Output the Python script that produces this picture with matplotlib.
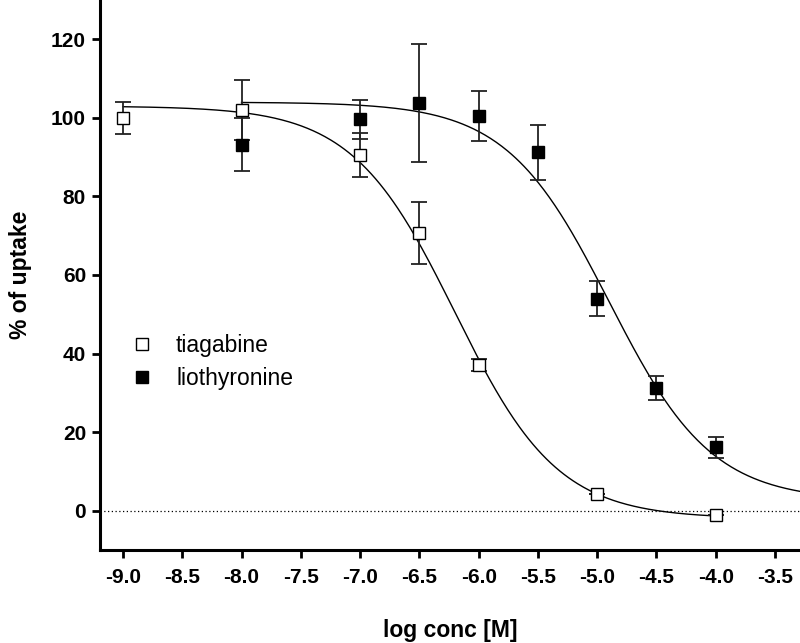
import numpy as np
import matplotlib
matplotlib.use("Agg")
import matplotlib.pyplot as plt
from matplotlib.lines import Line2D
from matplotlib.ticker import FuncFormatter

plt.rcParams['font.family'] = ['Liberation Sans', 'DejaVu Sans']
plt.rcParams['axes.unicode_minus'] = False

# ---- data ----
tia_x = [-9.0, -8.0, -7.0, -6.5, -6.0, -5.0, -4.0]
tia_y = [100.0, 102.0, 90.5, 70.7, 37.0, 4.3, -1.1]
tia_err = [4.0, 7.6, 5.6, 8.0, 1.5, 0.0, 0.0]

lio_x = [-8.0, -7.0, -6.5, -6.0, -5.5, -5.0, -4.5, -4.0]
lio_y = [93.2, 99.6, 103.8, 100.4, 91.2, 54.0, 31.2, 16.1]
lio_err = [6.7, 5.0, 15.1, 6.4, 7.0, 4.5, 3.0, 2.7]

# fitted sigmoid parameters (top, bottom, logIC50, hill)
tia_fit = dict(top=103.0, bottom=-2.0, logic50=-6.2, hill=1.0)
lio_fit = dict(top=104.0, bottom=2.5, logic50=-4.9, hill=1.0)
tia_range = (-9.0, -4.0)
lio_range = (-8.0, -3.29)

xticks = [-9.0, -8.5, -8.0, -7.5, -7.0, -6.5, -6.0, -5.5, -5.0, -4.5, -4.0, -3.5]
yticks = [0, 20, 40, 60, 80, 100, 120]


def sigmoid(x, top, bottom, logic50, hill):
    return bottom + (top - bottom) / (1 + 10 ** ((x - logic50) * hill))


fig = plt.figure(figsize=(8.0, 6.43), dpi=100)
ax = fig.add_axes([0.125, 1 - 550 / 643, 0.875, 550 / 643])

# zero reference line
ax.axhline(0, color='black', lw=0.9, ls=(0, (1, 2)), zorder=1)

# fitted curves
xs = np.linspace(*tia_range, 400)
ax.plot(xs, sigmoid(xs, **tia_fit), color='black', lw=1.0, zorder=2)
xs = np.linspace(*lio_range, 400)
ax.plot(xs, sigmoid(xs, **lio_fit), color='black', lw=1.0, zorder=2)

# data with error bars
ax.errorbar(lio_x, lio_y, yerr=lio_err, fmt='none', ecolor='#222222',
            elinewidth=1.3, capsize=5.5, capthick=1.3, zorder=3)
ax.errorbar(tia_x, tia_y, yerr=tia_err, fmt='none', ecolor='#222222',
            elinewidth=1.3, capsize=5.5, capthick=1.3, zorder=3)
ax.plot(lio_x, lio_y, ls='none', marker='s', ms=8.3, mfc='black',
        mec='black', mew=1.0, zorder=4)
ax.plot(tia_x, tia_y, ls='none', marker='s', ms=8.3, mfc='white',
        mec='black', mew=1.0, zorder=4)

ax.set_xlim(-9.194, -3.289)
ax.set_ylim(-10, 130)
ax.set_xticks(xticks)
ax.set_yticks(yticks)
ax.xaxis.set_major_formatter(FuncFormatter(lambda v, p: f"{v:.1f}"))

for s in ['top', 'right']:
    ax.spines[s].set_visible(False)
for s in ['left', 'bottom']:
    ax.spines[s].set_linewidth(2.2)

ax.tick_params(axis='both', direction='out', length=6, width=2.0,
               labelsize=15, pad=4)
for lab in ax.get_xticklabels() + ax.get_yticklabels():
    lab.set_fontweight('bold')
ax.tick_params(axis='x', pad=7)

ax.set_xlabel('log conc [M]', fontsize=16.5, fontweight='bold', labelpad=23)
ax.set_ylabel('% of uptake', fontsize=16.5, fontweight='bold', labelpad=14)

handles = [
    Line2D([], [], ls='none', marker='s', ms=8.3, mfc='white', mec='black', mew=1.0),
    Line2D([], [], ls='none', marker='s', ms=8.3, mfc='black', mec='black', mew=1.0),
]
ax.legend(handles, ['tiagabine', 'liothyronine'], frameon=False,
          loc='center left', bbox_to_anchor=(0.03, 0.342),
          fontsize=16.5, handlelength=1.0, handletextpad=1.0,
          labelspacing=0.45, borderaxespad=0.0)

fig.savefig('out.png', dpi=100)
